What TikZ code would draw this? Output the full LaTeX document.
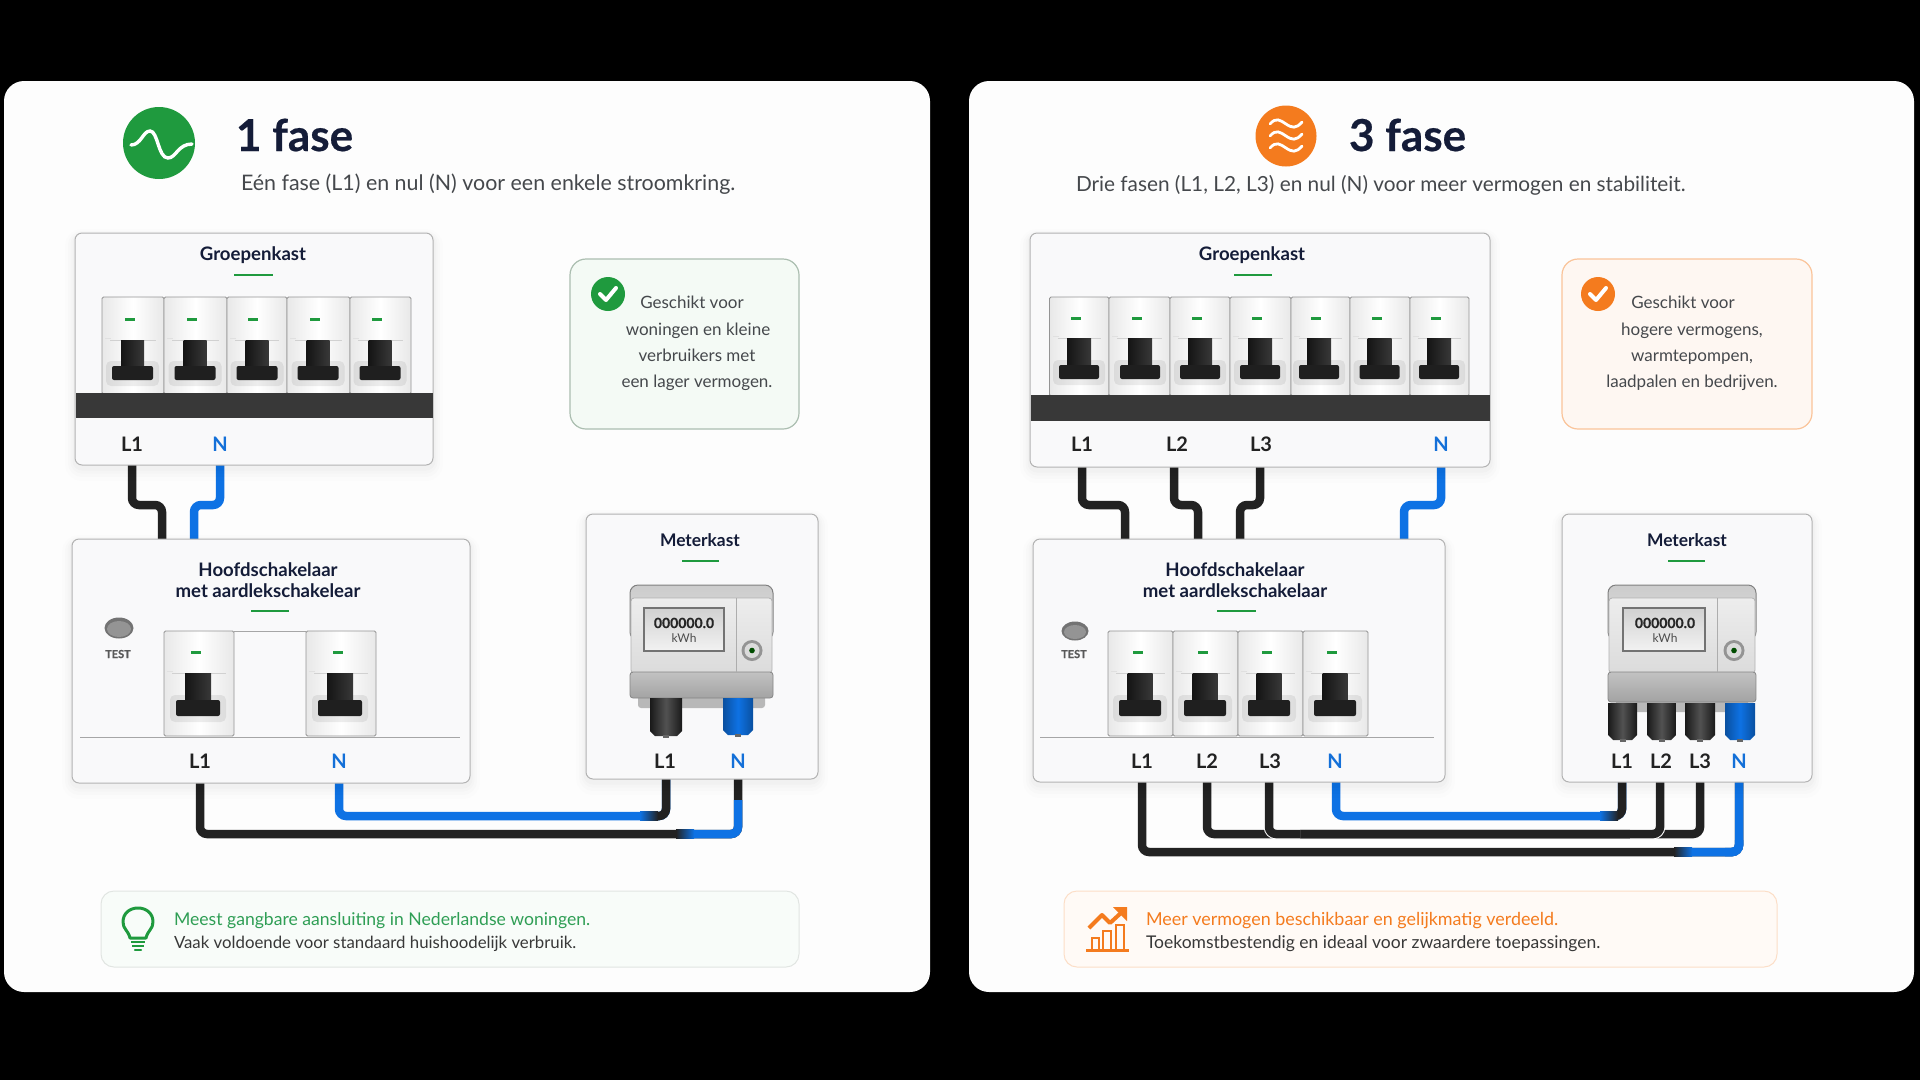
\documentclass[tikz,border=0pt]{standalone}
\usepackage{fontspec}
\setmainfont{Lato}
\newfontfamily\hvy{Lato}[BoldFeatures={FakeBold=0.5}]
\usetikzlibrary{calc}
\definecolor{navy}{HTML}{141C38}
\definecolor{subg}{HTML}{45484C}
\definecolor{grn}{HTML}{1F9A3E}
\definecolor{grnt}{HTML}{2F9E55}
\definecolor{org}{HTML}{F47B1E}
\definecolor{blu}{HTML}{0E72E4}
\definecolor{blut}{HTML}{1470D8}
\definecolor{cbl}{HTML}{222222}
\definecolor{cardw}{HTML}{FDFDFD}
\definecolor{pnl}{HTML}{F9F9FA}
\newcommand\fsz[1]{\fontsize{#1}{#1}\selectfont}
\tikzset{
  panel/.style={draw=black!30,fill=pnl,rounded corners=7,line width=1,
    preaction={draw=black,draw opacity=.008,line width=20,transform canvas={yshift=-6pt}},
    preaction={draw=black,draw opacity=.010,line width=14,transform canvas={yshift=-5pt}},
    preaction={draw=black,draw opacity=.012,line width=9,transform canvas={yshift=-4pt}},
    preaction={draw=black,draw opacity=.016,line width=5,transform canvas={yshift=-3pt}}},
  cardbox/.style={fill=cardw,rounded corners=20},
  txt/.style={inner sep=0,outer sep=0,anchor=base},
  ttl/.style={txt,font=\hvy\fsz{44}\bfseries,text=navy,anchor=base west},
  sub/.style={txt,font=\fsz{21.4}\selectfont,text=subg,anchor=base west},
  hd/.style={txt,font=\fsz{18.6}\bfseries,text=navy},
  lab/.style={txt,font=\fsz{20}\bfseries,text=cbl},
  labn/.style={txt,font=\fsz{20}\bfseries,text=blut},
  info/.style={txt,font=\fsz{17}\selectfont,text=subg},
  tst/.style={txt,font=\hvy\fsz{11}\bfseries,text=black!65},
  disp/.style={txt,font=\hvy\fsz{14}\bfseries,text=black!85},
  kwh/.style={txt,font=\fsz{12}\selectfont,text=black!70},
  note/.style={txt,anchor=base west},
  cabk/.style={draw=cbl,line width=8.5,rounded corners=7},
  cabb/.style={draw=blu,line width=8.5,rounded corners=7},
  uline/.style={draw=grn,line width=2},
}
% rectangular box node from its corners
\newcommand\bx[6]{\node[#6,anchor=north west,inner sep=0,outer sep=0,
  minimum width=\dimexpr#4pt-#2pt\relax,minimum height=\dimexpr#5pt-#3pt\relax] (#1) at (#2,#3) {};}
% breaker module
\newcommand\brk[4]{%
  \shade[left color=black!9,right color=black!9,middle color=white,draw=black!42,line width=.8,rounded corners=1.5] (#1,\bya) rectangle (#2,\byb);
  \fill[black!12] (#1+3,\byu-2) rectangle (#1+9,\byu-1);
  \draw[black!18,line width=.6] (#1+8,\byu) -- (#2-8,\byu);
  \fill[black,opacity=.07,rounded corners=5] (#3-\bklw/2-6,\bym-5) rectangle (#3+\bklw/2+6,\byd+6);
  \fill[grn] (#4-5,\byl-1.5) rectangle (#4+5,\byl+1.5);
  \shade[left color=black!92,right color=black!78] (#3-\bkuw/2,\byu) rectangle (#3+\bkuw/2,\bym+1);
  \fill[black!88,rounded corners=2] (#3-\bklw/2,\bym) rectangle (#3+\bklw/2,\byd);
}
% meter body: x1 x2 disp1 disp2 divider knob bandbottom
\newcommand\meterbody[7]{%
  \fill[black!28,rounded corners=3] (#1+8,#7-12) rectangle (#2-8,#7+10);
  \shade[top color=black!20,bottom color=black!12,draw=black!50,line width=1,rounded corners=8] (#1,585) rectangle (#2,640);
  \shade[top color=black!7,bottom color=black!14,draw=black!30,line width=.8,rounded corners=3] (#1+1,598) rectangle (#2-1,673);
  \shade[top color=black!24,bottom color=black!36,draw=black!48,line width=.8,rounded corners=3] (#1,672) rectangle (#2,#7);
  \draw[black!32,line width=1] (#5,598) -- (#5,672);
  \shade[top color=black!18,bottom color=black!5,draw=black!55,line width=1.2] (#3,608) rectangle (#4,651);
  \fill[black!42] (#6,650.5) circle (10.5);
  \fill[black!14] (#6,650.5) circle (7.5);
  \fill[black!70!green] (#6,650.5) circle (2.8);
}
% terminal plug: x1 x2 ytop ybottom colour-edge colour-mid
\newcommand\plug[6]{%
  \shade[left color=#5,right color=#5,middle color=#6] (#1,#3) -- (#1,#4-5) -- (#1+5,#4) -- (#2-5,#4) -- (#2,#4-5) -- (#2,#3) -- cycle;
  \fill[black!60] ({(#1+#2)/2-3},#4-1) rectangle ({(#1+#2)/2+3},#4+2);
}
\begin{document}
\begin{tikzpicture}[x=1pt,y=-1pt]
\useasboundingbox (0,0) rectangle (1920,1080);
\fill[black] (0,0) rectangle (1920,1080);
\bx{cardA}{4}{81}{930}{992}{cardbox}
\bx{cardB}{969}{81}{1914}{992}{cardbox}

%% ---------- ports
\coordinate (gaL) at (132,465); \coordinate (gaN) at (220,465);
\coordinate (haLi) at (162,540); \coordinate (haNi) at (194,540);
\coordinate (haL) at (200,783); \coordinate (haN) at (339,783);
\coordinate (maL) at (666,779); \coordinate (maN) at (738,779);
\coordinate (gb1) at (1082,467); \coordinate (gb2) at (1174,467); \coordinate (gb3) at (1260,467); \coordinate (gbN) at (1441,467);
\coordinate (hb1i) at (1125,540); \coordinate (hb2i) at (1198,540); \coordinate (hb3i) at (1240,540); \coordinate (hbNi) at (1404,540);
\coordinate (hb1) at (1142,782); \coordinate (hb2) at (1207,782); \coordinate (hb3) at (1269,782); \coordinate (hbN) at (1336,782);
\coordinate (mb1) at (1622,782); \coordinate (mb2) at (1660,782); \coordinate (mb3) at (1700,782); \coordinate (mbN) at (1739,782);

%% ---------- cables, 1 fase
\draw[cabk] (gaL) -- ++(0,40) -| (haLi);
\draw[cabb] (gaN) -- ++(0,40) -| (haNi);
\draw[cabk] (haL) -- ++(0,51) -| (maN);
\begin{scope}\clip (690,800) rectangle (760,860); \draw[cabb] (haL) -- ++(0,51) -| (maN); \end{scope}
\shade[left color=cbl,right color=blu] (676,829.75) rectangle (694,838.25);
\draw[cabb] (haN) -- ++(0,33) -| (maL);
\begin{scope}\clip (655,770) rectangle (690,830); \draw[cabk] (haN) -- ++(0,33) -| (maL); \end{scope}
\shade[left color=blu,right color=cbl] (640,811.75) rectangle (658,820.25);

%% ---------- cables, 3 fase
\draw[cabk] (gb1) -- ++(0,38) -| (hb1i);
\draw[cabk] (gb2) -- ++(0,38) -| (hb2i);
\draw[cabk] (gb3) -- ++(0,38) -| (hb3i);
\draw[cabb] (gbN) -- ++(0,38) -| (hbNi);
\draw[cabk] (hb1) -- ++(0,70) -| (mbN);
\begin{scope}\clip (1688,840) rectangle (1760,870); \draw[cabb] (hb1) -- ++(0,70) -| (mbN); \end{scope}
\begin{scope}\clip (1725,770) rectangle (1760,870); \draw[cabb] (hb1) -- ++(0,70) -| (mbN); \end{scope}
\shade[left color=cbl,right color=blu] (1674,847.75) rectangle (1692,856.25);
\draw[cabk] (hb2) -- ++(0,52) -| (mb2);
\draw[cabk] (hb3) -- ++(0,52) -| (mb3);
\begin{scope}\clip (1255,770) rectangle (1300,850);
  \draw[white,line width=10.5,rounded corners=7] (hb3) -- ++(0,52) -| (mb3);
  \draw[cabk] (hb3) -- ++(0,52) -| (mb3); \end{scope}
\begin{scope}\clip (1630,770) rectangle (1672,850);
  \draw[white,line width=10.5,rounded corners=7] (hb2) -- ++(0,52) -| (mb2);
  \draw[cabk] (hb2) -- ++(0,52) -| (mb2); \end{scope}
\draw[cabb] (hbN) -- ++(0,34) -| (mb1);
\begin{scope}\clip (1615,770) rectangle (1640,830); \draw[cabk] (hbN) -- ++(0,34) -| (mb1); \end{scope}
\shade[left color=blu,right color=cbl] (1600,811.75) rectangle (1618,820.25);

%% ---------- LEFT CARD
\node[circle,fill=grn,minimum size=72,inner sep=0] (iconA) at (159,143) {};
\draw[white,line width=3.4,line cap=round] (131,145) .. controls (141,145) and (143,131) .. (150,131) .. controls (158,131) and (158,158) .. (168,158) .. controls (176,158) and (178,144) .. (192,144);
\node[ttl] (ttlA) at (236,151) {1 fase};
\node[sub] (subA) at (241,190) {Eén fase (L1) en nul (N) voor een enkele stroomkring.};

% Groepenkast
\bx{ga}{75}{233}{433}{465}{panel}
\node[hd] (gaT) at (253,260) {Groepenkast};
\draw[uline] (234,275) -- (273,275);
\def\bya{297}\def\byb{394}\def\byu{340}\def\bym{366}\def\byd{380}\def\byl{319}\def\bkuw{23}\def\bklw{41}
\brk{102}{164}{132.5}{130}
\brk{164}{227}{195}{192}
\brk{227}{287}{257}{253}
\brk{287}{350}{318}{315}
\brk{350}{411}{380}{377}
\fill[black!78] (75.5,393) rectangle (432.5,418);
\node[lab] (gaL1) at (132,451) {L1};
\node[labn] (gaNl) at (220,451) {N};

% Hoofdschakelaar
\bx{ha}{72}{539}{470}{783}{panel}
\node[hd] (haT1) at (268,576) {Hoofdschakelaar};
\node[hd] (haT2) at (268,597) {met aardlekschakelear};
\draw[uline] (251,611) -- (289,611);
\fill[black!55] (119,628) ellipse (14.5 and 10.5);
\fill[black!42] (119,629) ellipse (12 and 8);
\node[tst] (haTest) at (118,658) {TEST};
\draw[black!35,line width=1] (80,737) -- (460,737);
\draw[black!35,line width=.8] (234,631) -- (306,631);
\def\bya{631}\def\byb{736}\def\byu{673}\def\bym{700}\def\byd{716}\def\byl{652}\def\bkuw{26}\def\bklw{44}
\brk{164}{234}{198}{196}
\brk{306}{376}{340}{338}
\node[lab] (haL1) at (200,768) {L1};
\node[labn] (haNl) at (339,768) {N};

% Meterkast
\bx{ma}{586}{514}{818}{779}{panel}
\node[hd,font=\fsz{17.4}\bfseries] (maT) at (700,546) {Meterkast};
\draw[uline] (682,561) -- (719,561);
\meterbody{630}{773}{644}{724}{736}{752}{698}
\node[disp] (maD) at (684,628) {000000.0};
\node[kwh] (maK) at (684,642) {kWh};
\plug{650}{682}{698}{736}{black!90}{black!68}
\plug{723}{753}{698}{735}{blu!70!black}{blu}
\node[lab] (maL1) at (665,768) {L1};
\node[labn] (maNl) at (738,768) {N};

% info box
\bx{ia}{570}{259}{799}{429}{draw=grn!45!black!35,fill=grn!5!white,rounded corners=16,line width=1.2}
\node[circle,fill=grn,minimum size=34,inner sep=0] (chkA) at (608,294) {};
\draw[white,line width=4,line cap=round,line join=round] (600,294) -- (606,300) -- (616,288);
\node[info] (iaT1) at (692,308) {Geschikt voor};
\node[info] (iaT2) at (698,335) {woningen en kleine};
\node[info] (iaT3) at (697,361) {verbruikers met};
\node[info] (iaT4) at (697,387) {een lager vermogen.};

% note
\bx{na}{101}{891}{799}{967}{draw=grn!25!black!12,fill=grn!3!white,rounded corners=13,line width=1}
\draw[grn,line width=3,line join=round] (130,938) .. controls (128,930) and (123,929) .. (123,922) .. controls (123,913) and (130,908) .. (138,908) .. controls (146,908) and (153,913) .. (153,922) .. controls (153,929) and (148,930) .. (146,938) -- cycle;
\draw[grn,line width=2.4] (131,942) -- (145,942) (132,946) -- (144,946);
\draw[grn,line width=2.4,line cap=round] (135,950) -- (141,950);
\node[note,text=grnt,font=\fsz{17.6}\selectfont] (naT1) at (174,925) {Meest gangbare aansluiting in Nederlandse woningen.};
\node[note,text=black!78,font=\fsz{16.8}\selectfont] (naT2) at (174,948) {Vaak voldoende voor standaard huishoodelijk verbruik.};

%% ---------- RIGHT CARD
\node[circle,fill=org,minimum size=61,inner sep=0] (iconB) at (1286,136) {};
\foreach \yy in {124,136,148}{
  \draw[white,line width=2.8,line cap=round] (1270,\yy) .. controls (1276,\yy-7) and (1280,\yy-4) .. (1286,\yy) .. controls (1292,\yy+4) and (1296,\yy+5) .. (1302,\yy-2);
}
\node[ttl] (ttlB) at (1349,151) {3 fase};
\node[sub,font=\fsz{20.8}\selectfont] (subB) at (1076,191) {Drie fasen (L1, L2, L3) en nul (N) voor meer vermogen en stabiliteit.};

% Groepenkast
\bx{gb}{1030}{233}{1490}{467}{panel}
\node[hd] (gbT) at (1252,260) {Groepenkast};
\draw[uline] (1234,275) -- (1272,275);
\def\bya{297}\def\byb{396}\def\byu{338}\def\bym{365}\def\byd{379}\def\byl{318}\def\bkuw{24}\def\bklw{40}
\brk{1049.5}{1109}{1079}{1076}
\brk{1109}{1170}{1140}{1137}
\brk{1170}{1230}{1200}{1197}
\brk{1230}{1291}{1260}{1257}
\brk{1291}{1350}{1319}{1316}
\brk{1350}{1410}{1379.5}{1377}
\brk{1410}{1469}{1439}{1436}
\fill[black!78] (1030.5,395) rectangle (1489.5,421);
\node[lab] (gbL1) at (1082,451.5) {L1};
\node[lab] (gbL2) at (1177,451.5) {L2};
\node[lab] (gbL3) at (1261,451.5) {L3};
\node[labn] (gbNl) at (1441,451.5) {N};

% Hoofdschakelaar
\bx{hb}{1033}{539}{1445}{782}{panel}
\node[hd] (hbT1) at (1235,576) {Hoofdschakelaar};
\node[hd] (hbT2) at (1235,597) {met aardlekschakelaar};
\draw[uline] (1217,611) -- (1256,611);
\fill[black!55] (1075,631) ellipse (13.5 and 9.5);
\fill[black!42] (1075,632) ellipse (11 and 7);
\node[tst] (hbTest) at (1074,658) {TEST};
\draw[black!35,line width=1] (1040,737) -- (1434,737);
\def\bya{631}\def\byb{736}\def\byu{673}\def\bym{700}\def\byd{716}\def\byl{652}\def\bkuw{25}\def\bklw{42}
\brk{1108}{1173}{1140}{1138}
\brk{1173}{1238}{1205}{1203}
\brk{1238}{1303}{1269}{1267}
\brk{1303}{1368}{1335}{1332}
\node[lab] (hbL1) at (1142,768) {L1};
\node[lab] (hbL2) at (1207,768) {L2};
\node[lab] (hbL3) at (1270,768) {L3};
\node[labn] (hbNl) at (1335,768) {N};

% Meterkast
\bx{mb}{1562}{514}{1812}{782}{panel}
\node[hd,font=\fsz{17.4}\bfseries] (mbT) at (1687,546) {Meterkast};
\draw[uline] (1668,561) -- (1705,561);
\meterbody{1608}{1756}{1623}{1705}{1717}{1734}{702}
\node[disp] (mbD) at (1665,628) {000000.0};
\node[kwh] (mbK) at (1665,642) {kWh};
\plug{1608}{1637}{703}{740}{black!90}{black!68}
\plug{1647}{1676}{703}{740}{black!90}{black!68}
\plug{1685}{1715}{703}{740}{black!90}{black!68}
\plug{1725}{1755}{703}{740}{blu!70!black}{blu}
\node[lab] (mbL1) at (1622,768) {L1};
\node[lab] (mbL2) at (1661,768) {L2};
\node[lab] (mbL3) at (1700,768) {L3};
\node[labn] (mbNl) at (1739,768) {N};

% info box
\bx{ib}{1562}{259}{1812}{429}{draw=org!45!white,fill=org!6!white,rounded corners=16,line width=1.2}
\node[circle,fill=org,minimum size=34,inner sep=0] (chkB) at (1598,294) {};
\draw[white,line width=4,line cap=round,line join=round] (1590,294) -- (1596,300) -- (1606,288);
\node[info] (ibT1) at (1683,308) {Geschikt voor};
\node[info] (ibT2) at (1692,335) {hogere vermogens,};
\node[info] (ibT3) at (1692,361) {warmtepompen,};
\node[info] (ibT4) at (1692,387) {laadpalen en bedrijven.};

% note
\bx{nb}{1064}{891}{1777}{967}{draw=org!25!white,fill=org!4!white,rounded corners=13,line width=1}
\draw[org,line width=3] (1086,950) -- (1129,950);
\draw[org,line width=2.4] (1092,950) |- (1099,938) -- (1099,950) (1103,950) |- (1111,931) -- (1111,950) (1116,950) |- (1124,925) -- (1124,950);
\draw[org,line width=4,line join=round] (1089,928) -- (1102,915) -- (1110,923) -- (1122,912);
\fill[org] (1113,907) -- (1127,907) -- (1127,921) -- cycle;
\node[note,text=org,font=\fsz{17.9}\selectfont] (nbT1) at (1146,925) {Meer vermogen beschikbaar en gelijkmatig verdeeld.};
\node[note,text=black!78,font=\fsz{17.5}\selectfont] (nbT2) at (1146,948) {Toekomstbestendig en ideaal voor zwaardere toepassingen.};
\end{tikzpicture}
\end{document}
